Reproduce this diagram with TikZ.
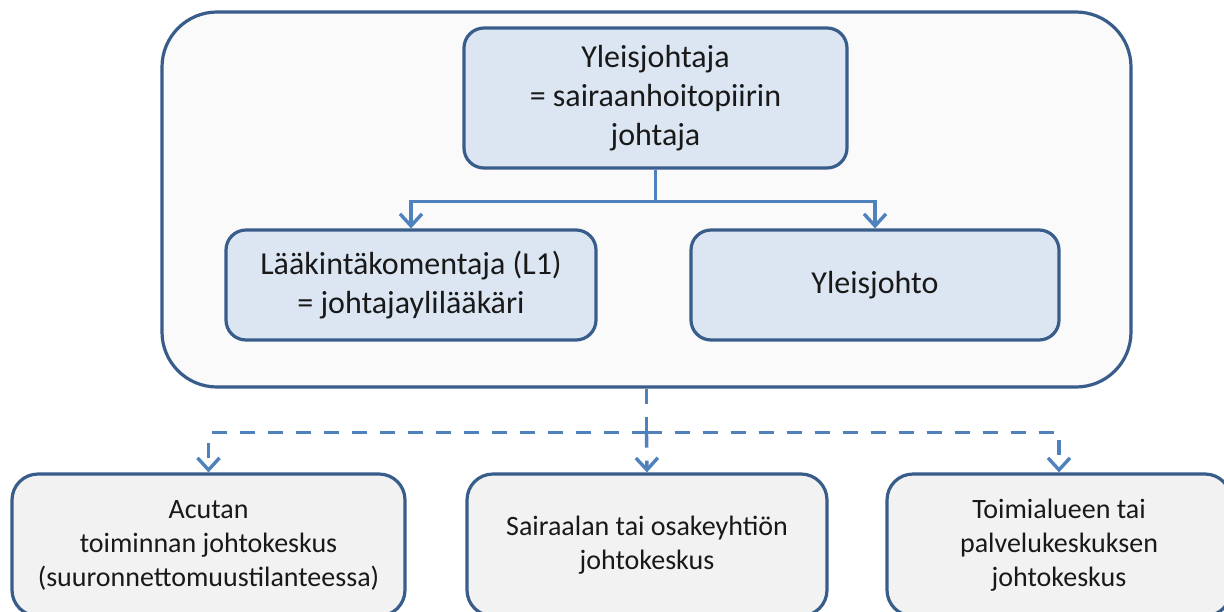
\documentclass[tikz,border=0pt]{standalone}
\usepackage{fontspec}
\setmainfont{Carlito}
\usetikzlibrary{arrows.meta}
\definecolor{edgeblue}{RGB}{56,93,138}
\definecolor{bluefill}{RGB}{220,230,242}
\definecolor{greyfill}{RGB}{242,242,242}
\definecolor{outerfill}{RGB}{250,250,250}
\definecolor{connblue}{RGB}{79,129,189}
\begin{document}
\begin{tikzpicture}[x=1pt,y=-1pt,
  boxbase/.style={draw=edgeblue, line width=3.2pt, align=center, inner sep=0pt, text=black!90},
  bluebox/.style={boxbase, fill=bluefill, rounded corners=20pt, font=\fontsize{32}{39}\selectfont},
  greybox/.style={boxbase, fill=greyfill, rounded corners=26pt, font=\fontsize{28}{34}\selectfont},
  link/.style={draw=connblue, line width=3.4pt},
  linkarrow/.style={link, -{Straight Barb[length=12pt,width=22pt]}},
  dlink/.style={link, dash pattern=on 15pt off 13pt},
  dlinkarrow/.style={linkarrow, dash pattern=on 15pt off 13pt}]
\useasboundingbox (0,0) rectangle (1224,611);
\clip (0,0) rectangle (1224,611);
\fill[white] (0,0) rectangle (1224,611);
% outer frame
\node[boxbase, fill=outerfill, rounded corners=55pt, minimum width=969pt, minimum height=375pt] (outer) at (646.5,199.5) {};
% boxes
\node[bluebox, minimum width=383pt, minimum height=140pt] (top) at (655.5,98) {Yleisjohtaja\\= sairaanhoitopiirin\\johtaja};
\node[bluebox, minimum width=370pt, minimum height=110pt] (lm) at (411,285) {Lääkintäkomentaja (L1)\\= johtajaylilääkäri};
\node[bluebox, minimum width=368pt, minimum height=110pt] (rm) at (875,285) {Yleisjohto};
\node[greybox, minimum width=393pt, minimum height=142pt] (bl) at (208.5,545) {Acutan\\toiminnan johtokeskus\\(suuronnettomuustilanteessa)};
\node[greybox, minimum width=360pt, minimum height=142pt] (bm) at (647,545) {Sairaalan tai osakeyhtiön\\johtokeskus};
\node[greybox, minimum width=344pt, minimum height=142pt] (br) at (1059,545) {Toimialueen tai\\palvelukeskuksen\\johtokeskus};
% solid connectors
\draw[link] (top.south) -- ++(0,32) coordinate (j1);
\draw[linkarrow] (j1) -| (lm.north);
\draw[linkarrow] (j1) -| (rm.north);
% dashed connectors
\draw[dlink] (outer.south) -- ++(0,44) coordinate (j2);
\draw[dlinkarrow] (j2) -| (bl.north);
\draw[dlinkarrow] (j2) -- (bm.north);
\draw[dlinkarrow] (j2) -| (br.north);
\end{tikzpicture}
\end{document}
